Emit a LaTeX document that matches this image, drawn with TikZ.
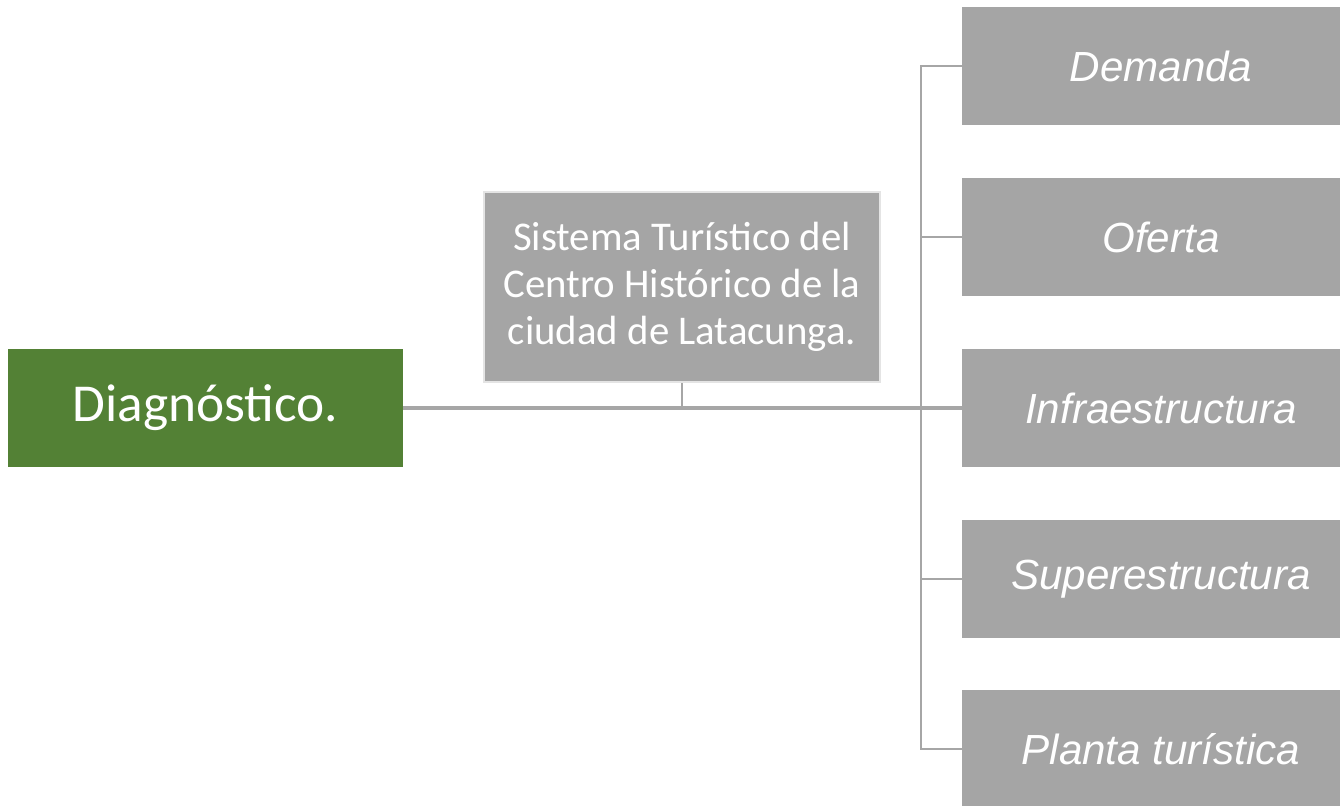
\documentclass[tikz,border=0pt]{standalone}
\usepackage{fontspec}
\setmainfont{Carlito}
\newfontfamily\arialfont{Liberation Sans}
\definecolor{diaggreen}{HTML}{538135}
\definecolor{boxgray}{HTML}{A5A5A5}
\definecolor{linegray}{HTML}{A6A6A6}
\definecolor{edgegray}{HTML}{E4E4E4}
\tikzset{
  greenbox/.style={fill=diaggreen, text=white, minimum width=296.25pt, minimum height=88.5pt, inner sep=0pt, font=\fontsize{40}{47}\selectfont},
  midbox/.style={fill=boxgray, draw=edgegray, line width=1.5pt, text=white, minimum width=297pt, minimum height=143pt, inner sep=0pt, align=center, font=\fontsize{30.6}{35.2}\selectfont},
  itembox/.style={fill=boxgray, text=white, minimum width=298.5pt, minimum height=88.5pt, inner sep=0pt, font=\arialfont\itshape\fontsize{31.6}{38}\selectfont},
  conn/.style={draw=linegray, line width=2.4pt},
  busline/.style={draw=linegray, line width=1.9pt}
}
\begin{document}
\begin{tikzpicture}[x=0.75pt,y=-0.75pt]
\useasboundingbox (0,0) rectangle (1340,806);
\clip (0,0) rectangle (1340,806);
\fill[white] (0,0) rectangle (1340,806);
\node[greenbox] (diag) at (205.5,408) {Diagnóstico.};
\node[midbox] (sys) at (682,287) {Sistema Turístico del\\Centro Histórico de la\\ciudad de Latacunga.};
\node[itembox] (d1) at (1161,66) {Demanda};
\node[itembox] (d2) at (1161,237) {Oferta};
\node[itembox] (d3) at (1161,408) {Infraestructura};
\node[itembox] (d4) at (1161,579) {Superestructura};
\node[itembox] (d5) at (1161,749) {Planta turística};
\coordinate (bus) at (921,0);
\draw[conn] (diag.east) -- (d3.west);
\draw[busline] (sys.south) -- (sys.south |- diag.east);
\draw[busline] (d1.west) -- (d1.west -| bus) -- (d5.west -| bus) -- (d5.west);
\draw[busline] (d2.west) -- (d2.west -| bus);
\draw[busline] (d4.west) -- (d4.west -| bus);
\end{tikzpicture}
\end{document}
